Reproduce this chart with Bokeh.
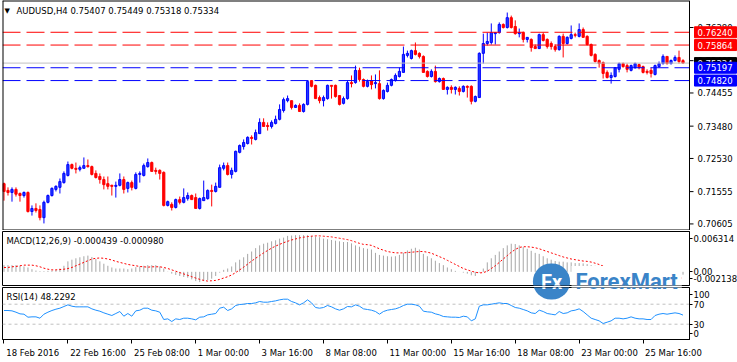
from bokeh.plotting import figure
from bokeh.layouts import column
from bokeh.models import ColumnDataSource, Range1d, FixedTicker, Span, Label
from bokeh.core.properties import value
from bokeh.embed import file_html
from bokeh.resources import INLINE

# ---------------- data ----------------
symbol = "AUDUSD,H4"
last_ohlc = ["0.75407", "0.75449", "0.75318", "0.75334"]
time_labels = ["18 Feb 2016", "22 Feb 16:00", "25 Feb 08:00", "1 Mar 00:00", "3 Mar 16:00",
               "8 Mar 08:00", "11 Mar 00:00", "15 Mar 16:00", "18 Mar 08:00", "23 Mar 00:00",
               "25 Mar 16:00"]
time_label_bars = [0, 16, 32, 48, 64, 80, 96, 112, 128, 144, 160]

opens = [
    0.7179, 0.7159, 0.7153, 0.7162, 0.7150, 0.7144, 0.7153, 0.7097, 0.7106, 0.7103,
    0.7079, 0.7124, 0.7144, 0.7162, 0.7168, 0.7182, 0.7203, 0.7235, 0.7224, 0.7221,
    0.7224, 0.7232, 0.7229, 0.7209, 0.7200, 0.7191, 0.7179, 0.7174, 0.7171, 0.7174,
    0.7191, 0.7165, 0.7182, 0.7165, 0.7206, 0.7203, 0.7229, 0.7241, 0.7218, 0.7218,
    0.7212, 0.7115, 0.7118, 0.7109, 0.7132, 0.7124, 0.7135, 0.7144, 0.7138, 0.7106,
    0.7129, 0.7135, 0.7159, 0.7156, 0.7168, 0.7224, 0.7232, 0.7206, 0.7215, 0.7271,
    0.7288, 0.7297, 0.7315, 0.7309, 0.7326, 0.7359, 0.7350, 0.7347, 0.7356, 0.7368,
    0.7394, 0.7423, 0.7423, 0.7403, 0.7409, 0.7391, 0.7412, 0.7482, 0.7468, 0.7432,
    0.7423, 0.7429, 0.7468, 0.7468, 0.7438, 0.7415, 0.7429, 0.7476, 0.7476, 0.7512,
    0.7485, 0.7465, 0.7482, 0.7473, 0.7473, 0.7429, 0.7450, 0.7468, 0.7482, 0.7494,
    0.7506, 0.7556, 0.7547, 0.7570, 0.7562, 0.7553, 0.7509, 0.7494, 0.7509, 0.7479,
    0.7488, 0.7456, 0.7462, 0.7456, 0.7459, 0.7450, 0.7465, 0.7465, 0.7421, 0.7432,
    0.7562, 0.7591, 0.7594, 0.7620, 0.7623, 0.7647, 0.7638, 0.7667, 0.7641, 0.7620,
    0.7623, 0.7603, 0.7603, 0.7582, 0.7576, 0.7617, 0.7603, 0.7591, 0.7582, 0.7573,
    0.7612, 0.7591, 0.7606, 0.7617, 0.7612, 0.7632, 0.7612, 0.7588, 0.7559, 0.7541,
    0.7535, 0.7506, 0.7491, 0.7494, 0.7515, 0.7532, 0.7526, 0.7512, 0.7520, 0.7529,
    0.7523, 0.7509, 0.7512, 0.7500, 0.7523, 0.7532, 0.7553, 0.7532, 0.7541, 0.7550,
    0.75407]
highs = [
    0.7182, 0.7168, 0.7168, 0.7168, 0.7153, 0.7156, 0.7156, 0.7115, 0.7121, 0.7115,
    0.7129, 0.7147, 0.7168, 0.7174, 0.7194, 0.7215, 0.7244, 0.7238, 0.7241, 0.7232,
    0.7256, 0.7250, 0.7232, 0.7218, 0.7209, 0.7200, 0.7200, 0.7176, 0.7185, 0.7209,
    0.7200, 0.7185, 0.7188, 0.7212, 0.7215, 0.7238, 0.7253, 0.7244, 0.7226, 0.7221,
    0.7215, 0.7129, 0.7124, 0.7135, 0.7141, 0.7165, 0.7153, 0.7147, 0.7150, 0.7138,
    0.7188, 0.7162, 0.7176, 0.7182, 0.7235, 0.7241, 0.7241, 0.7226, 0.7276, 0.7294,
    0.7309, 0.7318, 0.7321, 0.7338, 0.7371, 0.7371, 0.7359, 0.7365, 0.7379, 0.7412,
    0.7432, 0.7438, 0.7423, 0.7412, 0.7415, 0.7415, 0.7482, 0.7482, 0.7470, 0.7438,
    0.7438, 0.7470, 0.7468, 0.7470, 0.7438, 0.7435, 0.7482, 0.7497, 0.7526, 0.7520,
    0.7488, 0.7485, 0.7497, 0.7500, 0.7512, 0.7456, 0.7476, 0.7488, 0.7503, 0.7520,
    0.7582, 0.7570, 0.7573, 0.7594, 0.7565, 0.7556, 0.7512, 0.7515, 0.7526, 0.7491,
    0.7491, 0.7465, 0.7468, 0.7465, 0.7465, 0.7468, 0.7468, 0.7468, 0.7438, 0.7565,
    0.7620, 0.7623, 0.7650, 0.7623, 0.7653, 0.7650, 0.7682, 0.7673, 0.7659, 0.7635,
    0.7626, 0.7609, 0.7606, 0.7588, 0.7620, 0.7623, 0.7606, 0.7597, 0.7588, 0.7615,
    0.7620, 0.7612, 0.7644, 0.7623, 0.7650, 0.7638, 0.7615, 0.7591, 0.7562, 0.7544,
    0.7538, 0.7512, 0.7506, 0.7520, 0.7535, 0.7535, 0.7532, 0.7529, 0.7535, 0.7532,
    0.7526, 0.7515, 0.7520, 0.7529, 0.7538, 0.7559, 0.7553, 0.7544, 0.7556, 0.7570,
    0.75449]
lows = [
    0.7129, 0.7144, 0.7126, 0.7141, 0.7126, 0.7138, 0.7094, 0.7085, 0.7094, 0.7071,
    0.7062, 0.7121, 0.7141, 0.7156, 0.7150, 0.7179, 0.7200, 0.7221, 0.7209, 0.7215,
    0.7224, 0.7226, 0.7203, 0.7194, 0.7179, 0.7162, 0.7162, 0.7144, 0.7138, 0.7171,
    0.7150, 0.7153, 0.7159, 0.7162, 0.7182, 0.7200, 0.7226, 0.7215, 0.7206, 0.7191,
    0.7112, 0.7112, 0.7100, 0.7106, 0.7118, 0.7121, 0.7129, 0.7132, 0.7106, 0.7103,
    0.7129, 0.7132, 0.7112, 0.7153, 0.7168, 0.7218, 0.7203, 0.7194, 0.7212, 0.7268,
    0.7279, 0.7294, 0.7294, 0.7306, 0.7326, 0.7347, 0.7335, 0.7341, 0.7353, 0.7365,
    0.7388, 0.7418, 0.7397, 0.7403, 0.7391, 0.7388, 0.7409, 0.7462, 0.7429, 0.7415,
    0.7406, 0.7426, 0.7429, 0.7432, 0.7409, 0.7412, 0.7426, 0.7462, 0.7473, 0.7479,
    0.7462, 0.7462, 0.7456, 0.7459, 0.7426, 0.7426, 0.7447, 0.7465, 0.7479, 0.7491,
    0.7506, 0.7550, 0.7544, 0.7556, 0.7547, 0.7506, 0.7491, 0.7491, 0.7476, 0.7476,
    0.7456, 0.7441, 0.7444, 0.7441, 0.7438, 0.7447, 0.7432, 0.7412, 0.7418, 0.7432,
    0.7532, 0.7585, 0.7588, 0.7588, 0.7620, 0.7635, 0.7635, 0.7635, 0.7617, 0.7609,
    0.7594, 0.7594, 0.7567, 0.7576, 0.7576, 0.7597, 0.7576, 0.7573, 0.7567, 0.7570,
    0.7550, 0.7588, 0.7603, 0.7609, 0.7609, 0.7609, 0.7585, 0.7553, 0.7535, 0.7520,
    0.7488, 0.7488, 0.7473, 0.7491, 0.7506, 0.7520, 0.7506, 0.7509, 0.7517, 0.7515,
    0.7503, 0.7500, 0.7491, 0.7497, 0.7520, 0.7529, 0.7529, 0.7529, 0.7538, 0.7532,
    0.75318]
closes = [
    0.7156, 0.7153, 0.7162, 0.7148, 0.7144, 0.7153, 0.7097, 0.7106, 0.7100, 0.7079,
    0.7124, 0.7144, 0.7165, 0.7171, 0.7185, 0.7209, 0.7235, 0.7224, 0.7221, 0.7226,
    0.7232, 0.7229, 0.7206, 0.7197, 0.7191, 0.7176, 0.7171, 0.7171, 0.7174, 0.7191,
    0.7162, 0.7182, 0.7168, 0.7206, 0.7209, 0.7232, 0.7241, 0.7215, 0.7215, 0.7209,
    0.7115, 0.7126, 0.7109, 0.7132, 0.7124, 0.7138, 0.7144, 0.7132, 0.7106, 0.7135,
    0.7138, 0.7159, 0.7156, 0.7171, 0.7226, 0.7232, 0.7206, 0.7218, 0.7274, 0.7291,
    0.7300, 0.7315, 0.7312, 0.7329, 0.7359, 0.7347, 0.7347, 0.7359, 0.7368, 0.7397,
    0.7426, 0.7429, 0.7403, 0.7409, 0.7391, 0.7412, 0.7479, 0.7465, 0.7429, 0.7423,
    0.7432, 0.7468, 0.7465, 0.7435, 0.7412, 0.7429, 0.7476, 0.7473, 0.7512, 0.7485,
    0.7465, 0.7479, 0.7470, 0.7476, 0.7429, 0.7453, 0.7468, 0.7485, 0.7497, 0.7509,
    0.7559, 0.7562, 0.7570, 0.7559, 0.7553, 0.7506, 0.7494, 0.7509, 0.7479, 0.7488,
    0.7456, 0.7462, 0.7456, 0.7462, 0.7450, 0.7465, 0.7462, 0.7421, 0.7435, 0.7562,
    0.7591, 0.7597, 0.7623, 0.7623, 0.7647, 0.7638, 0.7667, 0.7638, 0.7620, 0.7623,
    0.7603, 0.7609, 0.7579, 0.7576, 0.7617, 0.7600, 0.7582, 0.7582, 0.7573, 0.7612,
    0.7591, 0.7609, 0.7617, 0.7615, 0.7632, 0.7609, 0.7588, 0.7556, 0.7538, 0.7532,
    0.7503, 0.7491, 0.7497, 0.7520, 0.7532, 0.7523, 0.7515, 0.7526, 0.7532, 0.7520,
    0.7506, 0.7506, 0.7503, 0.7526, 0.7532, 0.7553, 0.7532, 0.7541, 0.7550, 0.7538,
    0.75334]

macd_main = [
    0.00105, 0.00105, 0.00105, 0.00105, 0.00095, 0.00084, 0.00068, 0.00041, 0.00020, 0.00010,
    0.00010, 0.00015, 0.00020, 0.00031, 0.00052, 0.00095, 0.00164, 0.00190, 0.00212, 0.00228,
    0.00244, 0.00254, 0.00233, 0.00201, 0.00164, 0.00127, 0.00095, 0.00068, 0.00052, 0.00052,
    0.00052, 0.00041, 0.00052, 0.00073, 0.00084, 0.00095, 0.00105, 0.00105, 0.00105, 0.00084,
    0.00052, 0.00004, -0.00028, -0.00049, -0.00065, -0.00081, -0.00092, -0.00118, -0.00145, -0.00161,
    -0.00145, -0.00129, -0.00107, -0.00065, -0.00012, 0.00031, 0.00052, 0.00084, 0.00148, 0.00190,
    0.00228, 0.00281, 0.00318, 0.00371, 0.00414, 0.00440, 0.00456, 0.00478, 0.00494, 0.00520,
    0.00536, 0.00563, 0.00568, 0.00574, 0.00574, 0.00574, 0.00574, 0.00563, 0.00552, 0.00542,
    0.00520, 0.00510, 0.00499, 0.00488, 0.00478, 0.00467, 0.00467, 0.00446, 0.00414, 0.00393,
    0.00371, 0.00361, 0.00350, 0.00297, 0.00265, 0.00254, 0.00244, 0.00238, 0.00244, 0.00265,
    0.00297, 0.00334, 0.00361, 0.00377, 0.00350, 0.00281, 0.00244, 0.00212, 0.00174, 0.00137,
    0.00105, 0.00068, 0.00041, 0.00015, -0.00001, -0.00012, -0.00028, -0.00054, -0.00065, -0.00012,
    0.00052, 0.00148, 0.00212, 0.00265, 0.00318, 0.00371, 0.00414, 0.00440, 0.00435, 0.00414,
    0.00387, 0.00361, 0.00329, 0.00297, 0.00281, 0.00244, 0.00212, 0.00190, 0.00169, 0.00159,
    0.00159, 0.00148, 0.00148, 0.00137, 0.00137, 0.00132, 0.00121, 0.00105, 0.00095, 0.00073,
    0.00052, 0.00041, 0.00031, 0.00026, 0.00020, 0.00015, 0.00010, 0.00004, -0.00001, -0.00006,
    -0.00012, -0.00017, -0.00022, -0.00028, -0.00033, -0.00033, -0.00033, -0.00038, -0.00038, -0.00044,
    -0.000439]
macd_signal = [
    0.00068, 0.00068, 0.00079, 0.00084, 0.00095, 0.00105, 0.00105, 0.00105, 0.00095, 0.00079,
    0.00057, 0.00041, 0.00031, 0.00031, 0.00036, 0.00041, 0.00052, 0.00068, 0.00095, 0.00121,
    0.00148, 0.00174, 0.00201, 0.00212, 0.00217, 0.00212, 0.00201, 0.00185, 0.00164, 0.00148,
    0.00132, 0.00116, 0.00105, 0.00095, 0.00084, 0.00079, 0.00073, 0.00079, 0.00079, 0.00079,
    0.00068, 0.00052, 0.00031, 0.00010, -0.00012, -0.00033, -0.00054, -0.00076, -0.00097, -0.00118,
    -0.00134, -0.00145, -0.00139, -0.00134, -0.00118, -0.00097, -0.00076, -0.00049, -0.00012, 0.00031,
    0.00073, 0.00121, 0.00169, 0.00212, 0.00254, 0.00297, 0.00334, 0.00371, 0.00403, 0.00430,
    0.00456, 0.00478, 0.00499, 0.00515, 0.00531, 0.00542, 0.00552, 0.00558, 0.00563, 0.00563,
    0.00558, 0.00552, 0.00547, 0.00536, 0.00526, 0.00515, 0.00504, 0.00488, 0.00467, 0.00446,
    0.00430, 0.00425, 0.00414, 0.00387, 0.00361, 0.00339, 0.00318, 0.00307, 0.00297, 0.00297,
    0.00297, 0.00302, 0.00307, 0.00313, 0.00318, 0.00318, 0.00307, 0.00292, 0.00265, 0.00238,
    0.00212, 0.00180, 0.00148, 0.00116, 0.00084, 0.00052, 0.00031, 0.00010, -0.00006, -0.00017,
    -0.00012, 0.00010, 0.00052, 0.00095, 0.00148, 0.00201, 0.00254, 0.00307, 0.00350, 0.00382,
    0.00393, 0.00393, 0.00387, 0.00377, 0.00361, 0.00339, 0.00318, 0.00297, 0.00276, 0.00254,
    0.00233, 0.00217, 0.00201, 0.00190, 0.00180, 0.00169, 0.00164, 0.00153, 0.00135, 0.00115,
    0.00090, 0.00066, 0.00050, 0.00038, 0.00028, 0.00019, 0.00010, 0.00001, -0.00008, -0.00017,
    -0.00026, -0.00035, -0.00044, -0.00052, -0.00060, -0.00068, -0.00075, -0.00082, -0.00088, -0.00093,
    -0.00098]

rsi = [
    57.4, 57.4, 56.7, 54.0, 50.7, 50.0, 44.0, 44.7, 44.7, 42.0,
    50.0, 54.0, 57.4, 60.0, 62.0, 65.4, 68.7, 66.0, 64.7, 64.7,
    64.7, 64.7, 60.7, 58.0, 56.0, 52.7, 50.0, 47.4, 51.4, 55.4,
    46.0, 51.4, 46.0, 56.7, 58.0, 62.0, 62.0, 58.0, 56.7, 54.0,
    39.4, 40.7, 35.4, 40.7, 39.4, 42.0, 42.0, 40.7, 38.7, 44.0,
    44.7, 48.7, 50.0, 51.4, 62.0, 64.0, 57.4, 60.7, 67.4, 69.4,
    70.0, 71.4, 71.4, 72.7, 75.4, 74.0, 74.0, 75.4, 76.7, 78.7,
    80.0, 80.0, 75.4, 72.7, 68.7, 72.7, 78.7, 72.7, 63.4, 62.0,
    63.4, 67.4, 64.7, 60.7, 58.0, 60.7, 65.4, 64.7, 68.7, 66.0,
    60.7, 59.4, 58.0, 55.4, 50.0, 55.4, 58.0, 59.4, 60.7, 63.4,
    67.4, 70.0, 70.0, 68.7, 66.0, 56.0, 54.7, 54.0, 50.7, 48.7,
    45.4, 44.7, 44.0, 44.0, 43.4, 46.0, 44.7, 36.7, 40.7, 66.0,
    68.7, 68.7, 70.0, 71.4, 72.7, 71.4, 71.4, 67.4, 63.4, 62.0,
    59.4, 56.7, 52.7, 51.4, 58.0, 55.4, 51.4, 50.0, 48.7, 55.4,
    51.4, 52.7, 56.7, 58.0, 60.7, 55.4, 48.7, 42.0, 39.4, 36.7,
    31.4, 34.0, 36.7, 42.0, 42.0, 40.7, 42.0, 44.7, 42.0, 40.7,
    40.7, 39.4, 39.4, 47.4, 50.0, 51.4, 50.0, 51.4, 52.7, 51.4,
    48.23]

red_levels = [0.76240, 0.75864]
blue_levels = [0.74820, 0.75197]
bid_level = 0.75334
price_ticks = [0.76380, 0.75405, 0.74455, 0.73480, 0.72530, 0.71555, 0.70605]
macd_title = "MACD(12,26,9) -0.000439 -0.000980"
macd_min, macd_max = -0.002138, 0.006314
macd_axis_labels = ["0.006314", "0.00", "-0.002138"]
rsi_title = "RSI(14) 48.2292"
rsi_levels = [70, 30]
rsi_axis_labels = ["100", "70", "30", "0"]

# ---------------- layout / style ----------------
FONT = "DejaVu Sans"
FS = "8.5px"
N = len(closes)
FW = 687                      # frame width of the indicator panels (x 2..689)
X0, X1 = -0.375, N + 0.625    # bar range across the panel frames
PXB = FW / (X1 - X0)          # pixels per bar
FW_MAIN = 735                 # main panel frame also holds its price scale
X1_MAIN = X0 + FW_MAIN / PXB
Y_LO, Y_HI = 0.70412, 0.77174
BULL, BEAR = "#0000ff", "#ff0000"
LOGO_BLUE = "#3a84c8"

x_main = Range1d(X0, X1_MAIN)
x_ind = Range1d(X0, X1)


def style_axis(ax):
    ax.axis_line_color = "black"
    ax.major_tick_line_color = "black"
    ax.major_tick_out = 3
    ax.major_tick_in = 0
    ax.minor_tick_line_color = None
    ax.major_label_standoff = 1
    ax.major_label_text_font = FONT
    ax.major_label_text_font_size = FS
    ax.major_label_text_color = "black"


# ---- main price panel (price scale drawn inside the frame, right of bar area) ----
p = figure(frame_width=FW_MAIN, frame_height=230, x_range=x_main, y_range=Range1d(Y_LO, Y_HI),
           output_backend="svg", toolbar_location=None, x_axis_location=None,
           y_axis_location=None, min_border_left=2, min_border_top=0,
           min_border_bottom=0, min_border_right=0, border_fill_color="white")
p.grid.visible = False
p.outline_line_color = None
p.background_fill_color = "white"

up = [c >= o for o, c in zip(opens, closes)]
src = ColumnDataSource(dict(
    x=list(range(N)),
    high=highs, low=lows,
    top=[max(o, c) for o, c in zip(opens, closes)],
    bottom=[min(o, c) for o, c in zip(opens, closes)],
    color=[BULL if u else BEAR for u in up],
    fill=["#1f3cff" if u else "#ff0000" for u in up],
))
p.segment(x0="x", y0="high", x1="x", y1="low", source=src, line_color="color", line_width=1)
p.vbar(x="x", top="top", bottom="bottom", width=0.55, source=src,
       fill_color="fill", line_color="color", line_width=1)

AX = X1  # price-scale line position (right edge of the bar area)
p.segment(x0=[X0], y0=[bid_level], x1=[AX], y1=[bid_level], line_color="#c0c0c0", line_width=1)
for lvls, col in ((red_levels, "#ff0000"), (blue_levels, "#0000ff")):
    p.segment(x0=[X0] * len(lvls), y0=lvls, x1=[AX] * len(lvls), y1=lvls,
              line_color=col, line_width=1, line_dash="18 6")

# frame borders + price scale
p.add_layout(Span(location=X0, dimension="height", line_color="black", line_width=2))
p.segment(x0=[X0, X0], y0=[Y_HI, Y_LO], x1=[AX, AX], y1=[Y_HI, Y_LO],
          line_color="black", line_width=2)
p.segment(x0=[AX], y0=[Y_LO], x1=[AX], y1=[Y_HI], line_color="black", line_width=1)
p.segment(x0=[AX] * len(price_ticks), y0=price_ticks,
          x1=[AX + 4 / PXB] * len(price_ticks), y1=price_ticks, line_color="black", line_width=1)
p.text(x=[AX + 8 / PXB] * len(price_ticks), y=price_ticks,
       text=[f"{v:.5f}" for v in price_ticks], text_font=value(FONT), text_font_size=value(FS),
       text_baseline="middle", text_align="left", text_color="black")

# level price boxes: bid (black) first, then red, then blue on top
for lvls, col in (([bid_level], "black"), (red_levels, "#ff0000"), (blue_levels, "#0000ff")):
    for lv in lvls:
        p.rect(x=[AX + 26 / PXB], y=[lv], width=42, height=11,
               width_units="screen", height_units="screen", fill_color=col, line_color=col)
        p.text(x=[AX + 8 / PXB], y=[lv], text=[f"{lv:.5f}"], text_font=value(FONT),
               text_font_size=value(FS), text_baseline="middle", text_align="left",
               text_color="white")

p.add_layout(Label(x=2, y=220, x_units="screen", y_units="screen", text="\u25bc",
                   text_font=FONT, text_font_size="7px", text_baseline="middle",
                   text_color="black"))
p.add_layout(Label(x=14, y=220, x_units="screen", y_units="screen",
                   text=symbol + "  " + " ".join(last_ohlc),
                   text_font=FONT, text_font_size=FS, text_baseline="middle",
                   text_color="black"))


def logo(fig, y_rel):
    fig.add_layout(Label(x=569, y=y_rel, x_units="screen", y_units="screen", text="ForexMart",
                         text_font="Roboto", text_font_style="bold", text_font_size="22px",
                         text_color=LOGO_BLUE, text_baseline="middle", text_align="left",
                         background_fill_color="white", padding=(4, 3)))
    fig.add_layout(Label(x=549, y=y_rel, x_units="screen", y_units="screen", text="Fx",
                         text_font="Roboto", text_font_style="bold", text_font_size="20px",
                         text_color="white", text_baseline="middle", text_align="center",
                         background_fill_color=LOGO_BLUE, padding=(8, 6), border_radius=18))


# ---- MACD panel ----
pm = figure(frame_width=FW, frame_height=54, x_range=x_ind, y_range=Range1d(macd_min, macd_max),
            output_backend="svg", toolbar_location=None, x_axis_location=None,
            y_axis_location="right", min_border_left=2, min_border_top=1,
            min_border_bottom=1, min_border_right=0, border_fill_color="white")
pm.grid.visible = False
pm.outline_line_color = "black"
style_axis(pm.yaxis[0])
span_m = macd_max - macd_min
macd_tick_pos = [macd_max - 0.135 * span_m, 0.0, macd_min + 0.13 * span_m]
pm.yaxis.ticker = FixedTicker(ticks=macd_tick_pos)
pm.yaxis.major_label_overrides = dict(zip(macd_tick_pos, macd_axis_labels))
pm.segment(x0=list(range(N)), y0=[0.0] * N, x1=list(range(N)), y1=macd_main,
           line_color="#a6a6a6", line_width=1)
pm.line(list(range(N)), macd_signal, line_color="#ff0000", line_width=1, line_dash="2 2")
pm.add_layout(Label(x=4, y=45, x_units="screen", y_units="screen", text=macd_title,
                    text_font=FONT, text_font_size=FS, text_baseline="middle",
                    text_color="black"))
logo(pm, 4)

# ---- RSI panel ----
pr = figure(frame_width=FW, frame_height=52, x_range=x_ind, y_range=Range1d(-0.6, 103.4),
            output_backend="svg", toolbar_location=None, x_axis_location="below",
            y_axis_location="right", min_border_left=2, min_border_top=1,
            min_border_bottom=0, min_border_right=0, border_fill_color="white")
pr.grid.visible = False
pr.outline_line_color = "black"
style_axis(pr.yaxis[0])
rsi_tick_pos = [89.4, 70, 30, 12]
pr.yaxis.ticker = FixedTicker(ticks=rsi_tick_pos)
pr.yaxis.major_label_overrides = dict(zip(rsi_tick_pos, rsi_axis_labels))
for lv in rsi_levels:
    pr.add_layout(Span(location=lv, dimension="width", line_color="#c0c0c0",
                       line_width=1, line_dash="3 3", level="underlay"))
pr.line(list(range(N)), rsi, line_color="#1e90ff", line_width=1)
pr.add_layout(Label(x=4, y=43, x_units="screen", y_units="screen", text=rsi_title,
                    text_font=FONT, text_font_size=FS, text_baseline="middle",
                    text_color="black"))
logo(pr, 58)

# time axis: each label's text starts just right of its tick (ticks = minor ticks)
CW = {" ": .318, ":": .337, "F": .575, "M": .863, "e": .615, "b": .635, "a": .613, "r": .411}
def text_w(s):
    return sum(CW.get(ch, .636) for ch in s) * 8.5

label_pos = [b + (2 + text_w(s) / 2) / PXB for b, s in zip(time_label_bars, time_labels)]
xa = pr.xaxis[0]
xa.ticker = FixedTicker(ticks=label_pos, minor_ticks=time_label_bars)
xa.major_label_overrides = dict(zip(label_pos, time_labels))
xa.axis_line_color = "black"
xa.major_tick_out = 0
xa.major_tick_in = 0
xa.minor_tick_out = 4
xa.minor_tick_in = 0
xa.minor_tick_line_color = "black"
xa.major_label_standoff = 4
xa.major_label_text_font = FONT
xa.major_label_text_font_size = FS
xa.major_label_text_color = "black"

layout = column(p, pm, pr, spacing=0)
open("out.html", "w").write(file_html(layout, INLINE))
